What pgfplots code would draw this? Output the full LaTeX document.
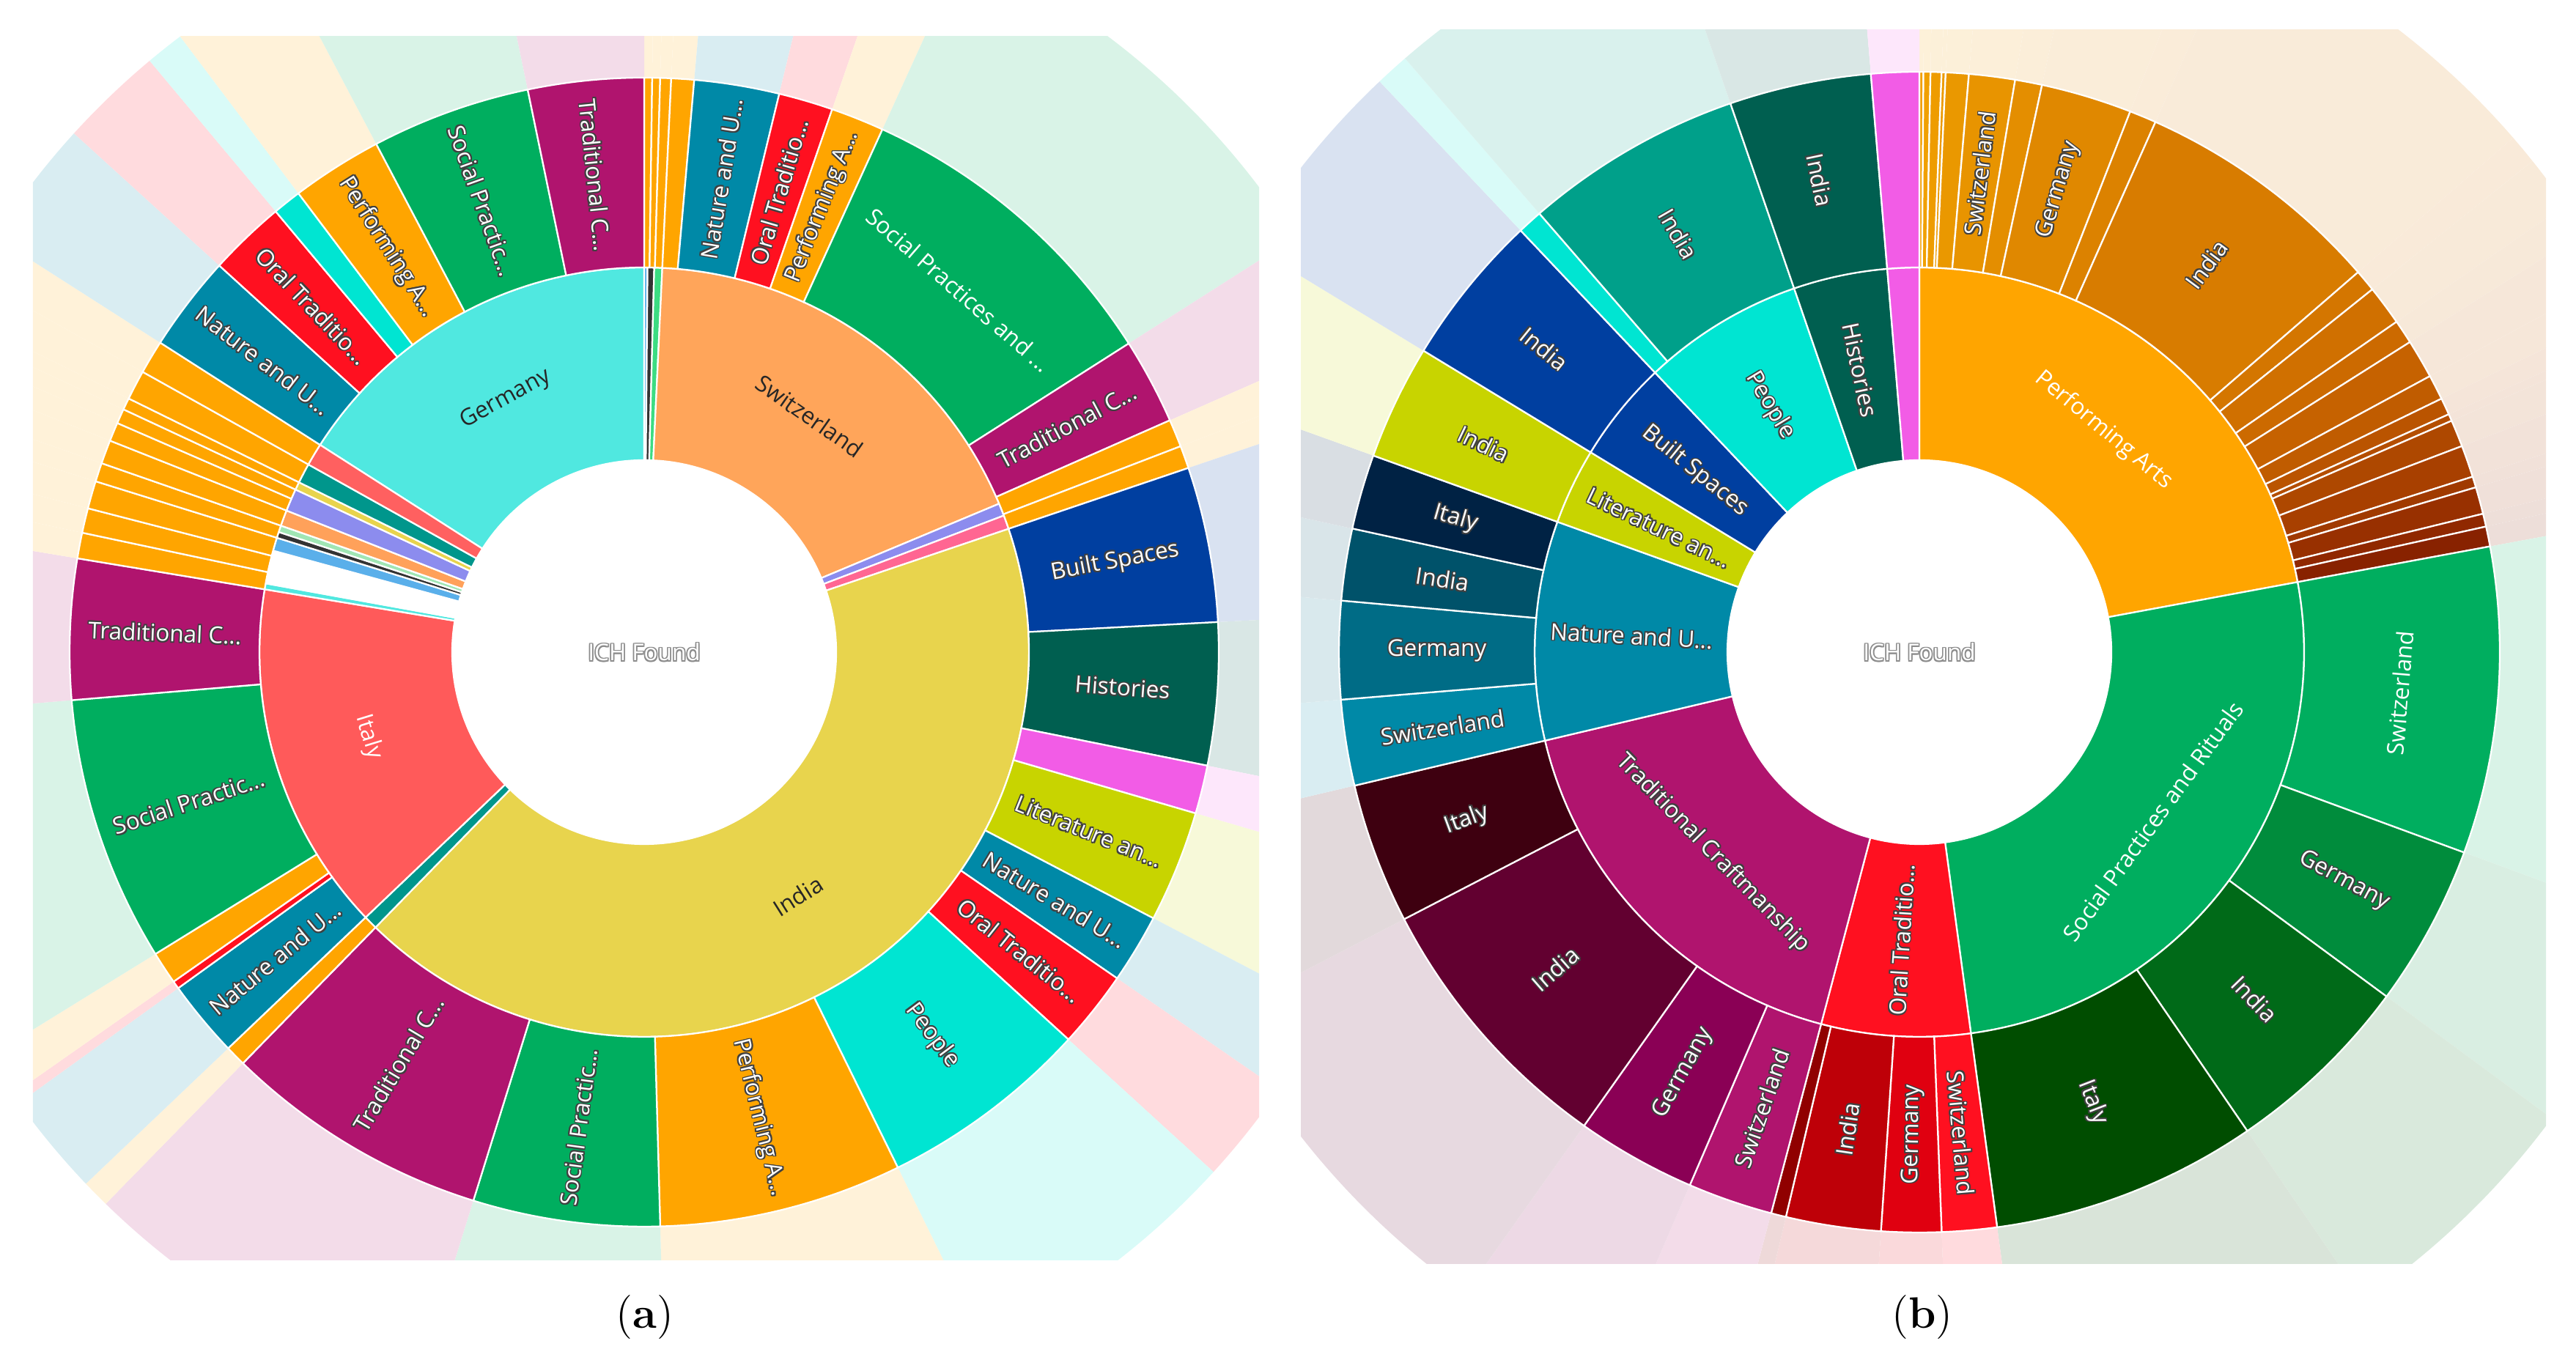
\documentclass[border=0pt]{standalone}
\usepackage{pgfplots}
\pgfplotsset{compat=1.18}
\usepackage{pgfplotstable}
\usepackage{fontspec}
\newfontfamily\sbfont{Open Sans}

% one row = one slice; a,b = angles clockwise from 12 o'clock, ring 1 = inner, 2 = outer
\pgfplotstableread[col sep=comma]{
a,b,ring,col,lab,ori,sty
0,0,0,555555,ICH Found,h,3
302.6,360,1,50E8E0,Germany,t,0
0,0.5,1,5AAFEA,x,n,0
0.5,1.5,1,333333,x,n,0
1.5,2.7,1,3CDC82,x,n,0
2.7,67.3,1,FFA55A,Switzerland,t,0
67.3,69.2,1,8C8CEE,x,n,0
69.2,71.3,1,FF6692,x,n,0
71.3,224.3,1,E8D44D,India,t,0
224.3,226.4,1,00968C,x,n,0
226.4,279.4,1,FF5A5A,Italy,t,1
279.4,280.3,1,50E8E0,x,n,0
280.3,285.3,1,FFFFFF,x,n,0
285.3,287.3,1,5AAFEA,x,n,0
287.3,288.2,1,333333,x,n,0
288.2,289.2,1,A0E6B4,x,n,0
289.2,291.6,1,FFA15A,x,n,0
291.6,295.0,1,8C8CEE,x,n,0
295.0,296.2,1,E8D44D,x,n,0
296.2,299.2,1,00968C,x,n,0
299.2,302.6,1,FF6060,x,n,0
0,0.8,2,FFA500,x,n,0
0.8,1.6,2,FFA500,x,n,0
1.6,2.7,2,FFA500,x,n,0
2.7,5.0,2,FFA500,x,n,0
5.0,13.6,2,0089A7,Nature and U...,r,2
13.6,19.1,2,FF1020,Oral Traditio...,r,2
19.1,24.5,2,FFA500,Performing A...,r,2
24.5,57.5,2,00AE5F,Social Practices and ...,t,1
57.5,66.2,2,B0146E,Traditional C...,r,2
66.2,69.0,2,FFA500,x,n,0
69.0,71.3,2,FFA500,x,n,0
71.3,87.0,2,003FA0,Built Spaces,r,2
87.0,101.4,2,005F50,Histories,r,2
101.4,106.3,2,F25CE6,x,n,0
106.3,117.6,2,C8D400,Literature an...,r,2
117.6,124.6,2,0089A7,Nature and U...,r,2
124.6,132.4,2,FF1020,Oral Traditio...,r,2
132.4,153.8,2,00E5D2,People,r,2
153.8,178.4,2,FFA500,Performing A...,r,2
178.4,197.3,2,00AE5F,Social Practic...,r,2
197.3,224.3,2,B0146E,Traditional C...,r,2
224.3,226.4,2,FFA500,x,n,0
226.4,234.2,2,0089A7,Nature and U...,r,2
234.2,235.0,2,FF1020,x,n,0
235.0,238.3,2,FFA500,x,n,0
238.3,265.2,2,00AE5F,Social Practic...,r,2
265.2,279.4,2,B0146E,Traditional C...,r,2
279.4,282.0,2,FFA500,x,n,0
282.0,284.5,2,FFA500,x,n,0
284.5,287.3,2,FFA500,x,n,0
287.3,289.2,2,FFA500,x,n,0
289.2,291.6,2,FFA500,x,n,0
291.6,293.5,2,FFA500,x,n,0
293.5,295.0,2,FFA500,x,n,0
295.0,296.2,2,FFA500,x,n,0
296.2,299.2,2,FFA500,x,n,0
299.2,302.6,2,FFA500,x,n,0
302.6,312.3,2,0089A7,Nature and U...,r,2
312.3,320.1,2,FF1020,Oral Traditio...,r,2
320.1,323.0,2,00E5D2,x,n,0
323.0,332.2,2,FFA500,Performing A...,r,2
332.2,348.3,2,00AE5F,Social Practic...,r,2
348.3,360,2,B0146E,Traditional C...,r,2
}\tabA

\pgfplotstableread[col sep=comma]{
a,b,ring,col,lab,ori,sty
0,0,0,555555,ICH Found,h,3
0,79.5,1,FFA500,Performing Arts,t,1
79.5,172.3,1,00AE5F,Social Practices and Rituals,t,1
172.3,194.8,1,FF1020,Oral Traditio...,r,2
194.8,256.7,1,B0146E,Traditional Craftmanship,t,2
256.7,289.8,1,0089A7,Nature and U...,r,2
289.8,301.3,1,C8D400,Literature an...,r,2
301.3,316.6,1,003FA0,Built Spaces,r,2
316.6,341.0,1,00E5D2,People,r,2
341.0,355.2,1,005F50,Histories,r,2
355.2,360,1,F25CE6,x,n,0
0,0.4,2,F2A000,x,n,0
0.4,1.1,2,F0A000,x,n,0
1.1,2.2,2,EE9C00,x,n,0
2.2,2.6,2,EC9A00,x,n,0
2.6,4.9,2,EA9800,x,n,0
4.9,9.5,2,E89400,Switzerland,r,2
9.5,12.2,2,E48E00,x,n,0
12.2,21.3,2,E08800,Germany,r,2
21.3,24.0,2,DC8200,x,n,0
24.0,49.1,2,D87C00,India,r,2
49.1,51.3,2,D47600,x,n,0
51.3,55.3,2,D07000,x,n,0
55.3,57.7,2,CC6A00,x,n,0
57.7,61.6,2,C66200,x,n,0
61.6,64.1,2,C05C00,x,n,0
64.1,65.8,2,BA5400,x,n,0
65.8,66.5,2,B44E00,x,n,0
66.5,69.2,2,AE4800,x,n,0
69.2,72.4,2,A84000,x,n,0
72.4,73.5,2,A03A00,x,n,0
73.5,76.2,2,983000,x,n,0
76.2,77.5,2,902800,x,n,0
77.5,79.5,2,882200,x,n,0
79.5,110.2,2,00AE5F,Switzerland,t,1
110.2,126.4,2,008C3C,Germany,r,2
126.4,145.6,2,006A18,India,r,2
145.6,172.3,2,004D00,Italy,r,2
172.3,177.8,2,FF1020,Switzerland,r,2
177.8,183.8,2,E00010,Germany,r,2
183.8,193.3,2,BE0008,India,r,2
193.3,194.8,2,900000,x,n,0
194.8,203.3,2,B0146E,Switzerland,r,2
203.3,215.3,2,8A0055,Germany,r,2
215.3,242.6,2,620030,India,r,2
242.6,256.7,2,3E0010,Italy,r,2
256.7,265.3,2,0089A7,Switzerland,r,2
265.3,275.1,2,006C86,Germany,r,2
275.1,282.3,2,00526A,India,r,2
282.3,289.8,2,002244,Italy,r,2
289.8,301.3,2,C8D400,India,r,2
301.3,316.6,2,003FA0,India,r,2
316.6,319.1,2,00E5D2,x,n,0
319.1,341.0,2,00A08A,India,r,2
341.0,355.2,2,005F50,India,r,2
355.2,360,2,F25CE6,x,n,0
}\tabB

\pgfkeys{/sb/.is family, /sb/a/.initial=0, /sb/b/.initial=0, /sb/ring/.initial=0,
  /sb/col/.initial=FFFFFF, /sb/lab/.initial=x, /sb/ori/.initial=n, /sb/sty/.initial=0}

\newcommand\sbget{%
  \edef\sbA{\pgfkeysvalueof{/sb/a}}\edef\sbB{\pgfkeysvalueof{/sb/b}}%
  \edef\sbRing{\pgfkeysvalueof{/sb/ring}}\edef\sbCol{\pgfkeysvalueof{/sb/col}}%
  \edef\sbTxt{\pgfkeysvalueof{/sb/lab}}\edef\sbOri{\pgfkeysvalueof{/sb/ori}}%
  \edef\sbSty{\pgfkeysvalueof{/sb/sty}}}

% ring radii in pixels, turned into pt (1 px = 0.2pt)
\newcommand\sbradii{%
  \ifcase\sbRing\relax \def\sbRi{0}\def\sbRo{0}%
  \or \pgfmathsetmacro\sbRi{0.2*\Rh}\pgfmathsetmacro\sbRo{0.2*\Rm}%
  \else \pgfmathsetmacro\sbRi{0.2*\Rm}\pgfmathsetmacro\sbRo{0.2*\Ro}\fi}

\newcommand\sbpath[4]{%
  \pgfpathmoveto{\pgfpointpolar{#1}{#3pt}}%
  \pgfpathlineto{\pgfpointpolar{#1}{#4pt}}%
  \pgfpatharc{#1}{#2}{#4pt}%
  \pgfpathlineto{\pgfpointpolar{#2}{#3pt}}%
  \pgfpatharc{#2}{#1}{#3pt}%
  \pgfpathclose}

% label: shift to the slice middle first, then rotate
\newcommand\sbtext[3]{%
  \pgfscope
  \pgftransformshift{\pgfpointadd{\pgfpointpolar{\sbM}{\sbRl pt}}{\pgfpoint{#1}{#2}}}%
  \pgftransformrotate{\sbRot}%
  \pgftext{\sbfont\fontsize{6.3}{7.5}\selectfont\color{#3}\sbTxt}%
  \endpgfscope}

\newcommand\sbhalo[2]{% outline colour, offset
  \sbtext{#2}{0pt}{#1}\sbtext{-#2}{0pt}{#1}\sbtext{0pt}{#2}{#1}\sbtext{0pt}{-#2}{#1}%
  \sbtext{#2}{#2}{#1}\sbtext{-#2}{#2}{#1}\sbtext{#2}{-#2}{#1}\sbtext{-#2}{-#2}{#1}}

\pgfdeclareplotmark{sbwedge}{%
  \begingroup
  \pgfkeys{/pgf/fpu=false}%
  \sbget\sbradii
  \pgfmathsetmacro\sbPa{90-\sbA}%
  \pgfmathsetmacro\sbPb{90-\sbB}%
  \edef\sbtmp{\noexpand\definecolor{sbc}{HTML}{\sbCol}}\sbtmp
  \colorlet{sbp}{sbc!15!white}%
  \ifnum\sbRing=2\relax
    \pgfscope
    \pgfpathrectanglecorners{\pgfpoint{\Xl pt}{\Yb pt}}{\pgfpoint{\Xr pt}{\Yt pt}}%
    \pgfusepath{clip}%
    \sbpath{\sbPa}{\sbPb}{\sbRo}{\Rc}%
    \pgfsetfillcolor{sbp}%
    \pgfusepath{fill}%
    \endpgfscope
  \fi
  \ifnum\sbRing>0\relax
    \pgfscope
    \sbpath{\sbPa}{\sbPb}{\sbRi}{\sbRo}%
    \pgfsetfillcolor{sbc}\pgfsetstrokecolor{white}\pgfsetlinewidth{0.45pt}%
    \pgfusepath{fill,stroke}%
    \endpgfscope
  \fi
  \endgroup}

\pgfdeclareplotmark{sblabel}{%
  \begingroup
  \pgfkeys{/pgf/fpu=false}%
  \sbget
  \if\sbOri n\else
    \sbradii
    \ifnum\sbRing=0\relax
      \def\sbM{0}\def\sbRl{0}\def\sbRot{0}%
    \else
      \pgfmathsetmacro\sbM{90-(\sbA+\sbB)/2}%
      \pgfmathsetmacro\sbRl{(\sbRi+\sbRo)/2}%
      \if\sbOri t\pgfmathsetmacro\sbRot{\sbM-90}\else\let\sbRot\sbM\fi
      \pgfmathsetmacro\sbRot{mod(\sbRot+810,180)-90}%
    \fi
    \ifcase\sbSty\relax
      \sbtext{0pt}{0pt}{black!85}%
    \or
      \sbtext{0pt}{0pt}{white}%
    \or
      \sbhalo{black!75}{.3pt}%
      \sbtext{0pt}{0pt}{white}%
    \else
      \sbhalo{black!45}{.3pt}%
      \sbtext{0pt}{0pt}{white}%
    \fi
  \fi
  \endgroup}

% one \addplot per table row, the row's values handed over as plot options
\newcommand\sbdraw[2]{%
  \pgfplotstablegetrowsof{#1}%
  \pgfmathtruncatemacro\sbN{\pgfplotsretval-1}%
  \pgfplotsforeachungrouped \sbi in {0,...,\sbN}{%
    \pgfplotstablegetelem{\sbi}{a}\of#1\let\sbxA\pgfplotsretval
    \pgfplotstablegetelem{\sbi}{b}\of#1\let\sbxB\pgfplotsretval
    \pgfplotstablegetelem{\sbi}{ring}\of#1\let\sbxR\pgfplotsretval
    \pgfplotstablegetelem{\sbi}{col}\of#1\let\sbxC\pgfplotsretval
    \pgfplotstablegetelem{\sbi}{lab}\of#1\let\sbxT\pgfplotsretval
    \pgfplotstablegetelem{\sbi}{ori}\of#1\let\sbxO\pgfplotsretval
    \pgfplotstablegetelem{\sbi}{sty}\of#1\let\sbxS\pgfplotsretval
    \edef\sbcmd{\noexpand\addplot[only marks, mark=#2, /sb/a=\sbxA, /sb/b=\sbxB,
      /sb/ring=\sbxR, /sb/col=\sbxC, /sb/lab={\sbxT}, /sb/ori=\sbxO, /sb/sty=\sbxS]
      coordinates {(0,0)};}%
    \sbcmd
  }}

\pgfplotsset{
  sbaxis/.style={anchor=center, scale only axis, width=344pt, height=344pt,
    xmin=-860, xmax=860, ymin=-860, ymax=860, hide axis, clip=false},
}

\begin{document}
\begin{tikzpicture}
\path[use as bounding box] (0,0) rectangle (703pt,371.2pt);

% (a)
\def\Rh{262}\def\Rm{525}\def\Ro{784}\def\Rc{210.4}
\def\Xl{-166.8}\def\Xr{167.8}\def\Yb{-166}\def\Yt{168}
\begin{axis}[sbaxis, at={(175.8pt,193.2pt)}]
\sbdraw{\tabA}{sbwedge}
\sbdraw{\tabA}{sblabel}
\end{axis}

% (b)
\def\Rh{262}\def\Rm{525}\def\Ro{792}\def\Rc{214.4}
\def\Xl{-168.8}\def\Xr{171}\def\Yb{-167}\def\Yt{169.8}
\begin{axis}[sbaxis, at={(523.8pt,193.2pt)}]
\sbdraw{\tabB}{sbwedge}
\sbdraw{\tabB}{sblabel}
\end{axis}

\node[font=\fontsize{12}{14}\selectfont] at (176pt,11.6pt) {(\textbf{a})};
\node[font=\fontsize{12}{14}\selectfont] at (524.6pt,11.6pt) {(\textbf{b})};
\end{tikzpicture}
\end{document}
